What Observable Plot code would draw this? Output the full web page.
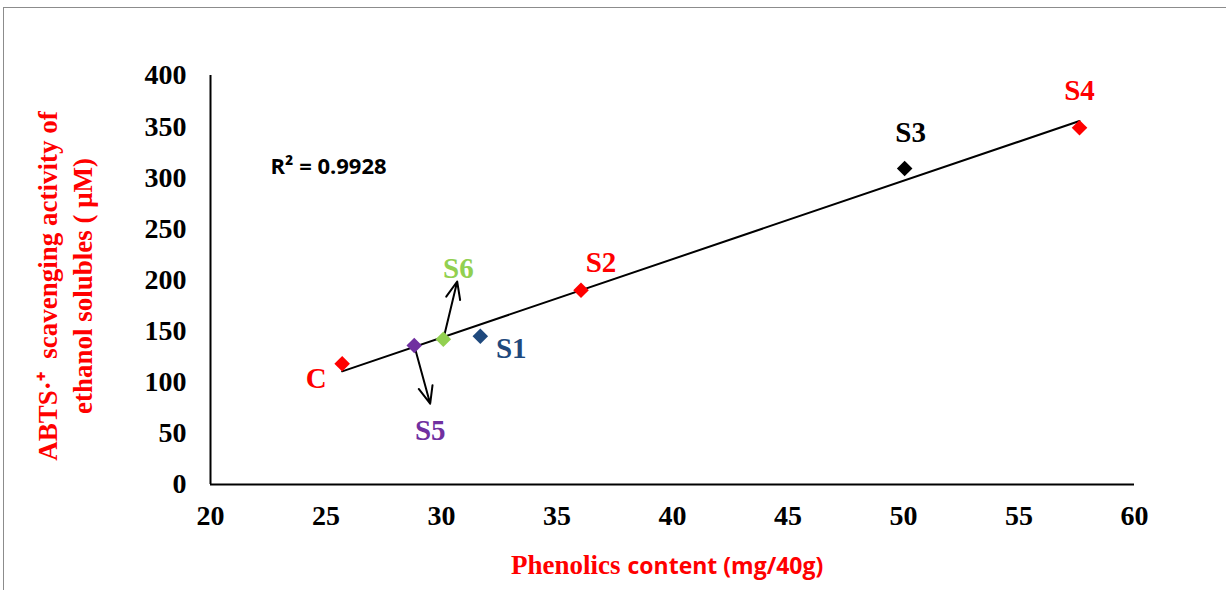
<!DOCTYPE html>
<html>
<head>
<meta charset="utf-8">
<script src="https://cdn.jsdelivr.net/npm/d3@7"></script>
<script src="https://cdn.jsdelivr.net/npm/@observablehq/plot@0.6"></script>
<style>
  html, body { margin: 0; padding: 0; background: #fff; }
  #wrap { position: relative; width: 1226px; height: 590px; overflow: hidden; }
  #frame { position: absolute; left: 3px; top: 7px; right: -4px; bottom: -4px;
           border-top: 1.5px solid #8c8c8c; border-left: 1.5px solid #8c8c8c; pointer-events: none; }
  #chart { position: absolute; left: 0; top: 0; }
</style>
</head>
<body>
<div id="wrap"><div id="chart"></div><div id="frame"></div></div>
<script>
// Samples, phenolics content (mg/40g) and ABTS·+ scavenging activity (µM)
const samples   = ["C", "S5", "S6", "S1", "S2", "S3", "S4"];
const phenolics = [25.7, 28.82, 30.08, 31.68, 36.04, 50.05, 57.62];
const abts      = [118, 136, 142, 145, 190, 309, 349];
const colors    = ["#FF0000", "#7030A0", "#92D050", "#1F497D", "#FF0000", "#000000", "#FF0000"];

// label offsets from each marker, in pixels
const labelDx = [-26, 16, 15, 31, 20, 6, 0];
const labelDy = [15, 85, -71, 12, -28, -36, -37];

// call-out arrows (S5 and S6), tips in data units
const arrowFrom = ["S5", "S6"];
const arrowTipX = [29.51, 30.68];
const arrowTipY = [79, 198.5];

const xTicks = [20, 25, 30, 35, 40, 45, 50, 55, 60];
const yTicks = [0, 50, 100, 150, 200, 250, 300, 350, 400];
const rSquared = "R² = 0.9928";

const rows = samples.map((s, i) => ({sample: s, x: phenolics[i], y: abts[i], color: colors[i]}));
const arrows = arrowFrom.map((s, i) => {
  const r = rows.find(d => d.sample === s);
  return {x1: r.x, y1: r.y, x2: arrowTipX[i], y2: arrowTipY[i]};
});

const serif = "'Liberation Serif', 'Times New Roman', serif";
const sans = "'Open Sans', 'Liberation Sans', sans-serif";

const labelMarks = rows.map((d, i) => Plot.text([d], {
  x: "x", y: "y", text: "sample", fill: d.color,
  dx: labelDx[i], dy: labelDy[i],
  fontSize: 29, fontWeight: "bold", fontFamily: serif
}));

const chart = Plot.plot({
  width: 1226,
  height: 590,
  marginLeft: 210,
  marginRight: 92,
  marginTop: 75,
  marginBottom: 106,
  style: {background: "transparent", color: "#000"},
  x: {domain: [20, 60]},
  y: {domain: [0, 400]},
  color: {type: "identity"},
  marks: [
    Plot.axisY({ticks: yTicks, tickSize: 0, tickPadding: 24, label: null,
      fontSize: 28, fontWeight: "bold", fontFamily: serif}),
    Plot.axisX({ticks: xTicks, tickSize: 0, tickPadding: 21, label: null,
      fontSize: 28, fontWeight: "bold", fontFamily: serif}),
    Plot.ruleX([20], {stroke: "#000", strokeWidth: 2}),
    Plot.ruleY([0], {stroke: "#000", strokeWidth: 2}),
    Plot.linearRegressionY(rows, {x: "x", y: "y", ci: 0, stroke: "#000", strokeWidth: 2}),
    Plot.arrow(arrows, {x1: "x1", y1: "y1", x2: "x2", y2: "y2",
      stroke: "#000", strokeWidth: 2, headLength: 14, headAngle: 45}),
    Plot.dot(rows, {x: "x", y: "y", symbol: "diamond2", r: 7, fill: "color", stroke: "none"}),
    ...labelMarks,
    Plot.text([rSquared], {x: 22.6, y: 311, text: d => d, textAnchor: "start",
      fontSize: 22, fontWeight: "bold", fontFamily: sans, fill: "#000"}),
    // x-axis title: serif word followed by sans unit text
    Plot.text(["Phenolics"], {frameAnchor: "bottom", textAnchor: "end", dx: -52, dy: 89, text: d => d,
      fill: "#FF0000", fontSize: 27, fontWeight: "bold", fontFamily: serif}),
    Plot.text(["content (mg/40g)"], {frameAnchor: "bottom", textAnchor: "start", dx: -45, dy: 89, text: d => d,
      fill: "#FF0000", fontSize: 23, fontWeight: "bold", fontFamily: sans}),
    // y-axis title, two lines
    Plot.text(["ABTS·⁺  scavenging activity of"], {frameAnchor: "left", textAnchor: "middle", rotate: -90,
      dx: -162, dy: 6, text: d => d, fill: "#FF0000", fontSize: 27, fontWeight: "bold", fontFamily: serif}),
    Plot.text(["ethanol solubles ( μM)"], {frameAnchor: "left", textAnchor: "middle", rotate: -90,
      dx: -127, dy: 6, text: d => d, fill: "#FF0000", fontSize: 27, fontWeight: "bold", fontFamily: serif})
  ]
});

document.getElementById("chart").appendChild(chart);
</script>
</body>
</html>
